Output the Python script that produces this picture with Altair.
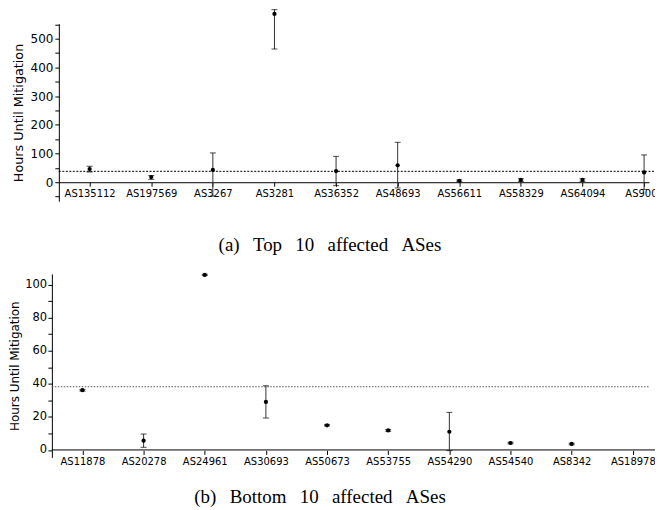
import altair as alt
import pandas as pd

# ---- Top 10 affected ASes ----
top_names = ["AS135112", "AS197569", "AS3267", "AS3281", "AS36352",
             "AS48693", "AS56611", "AS58329", "AS64094", "AS9009"]
top_mean = [46, 18, 43, 586, 39, 59, 5, 8, 8, 34]
top_low = [36, 10, -48, 464, -12, -20, 2, 3, 3, -25]
top_high = [56, 23, 102, 601, 90, 139, 8, 12, 12, 95]
top_ref = 38
top_ticks = [-50, 0, 50, 100, 150, 200, 250, 300, 350, 400, 450, 500, 550]

# ---- Bottom 10 affected ASes ----
bottom_names = ["AS11878", "AS20278", "AS24961", "AS30693", "AS50673",
                "AS53755", "AS54290", "AS54540", "AS8342", "AS18978"]
bottom_mean = [36.1, 5.6, 105.8, 29.0, 14.9, 11.8, 11.0, 4.2, 3.6, None]
bottom_low = [35.6, 1.6, 105.4, 19.3, 14.5, 11.3, -0.4, 3.7, 3.1, None]
bottom_high = [36.6, 9.6, 106.2, 38.8, 15.3, 12.3, 22.7, 4.7, 4.1, None]
bottom_ref = 38.2
bottom_ticks = [0, 10, 20, 30, 40, 50, 60, 70, 80, 90, 100]

FONT = "DejaVu Sans"


def panel(names, mean, low, high, ref, yticks, ydomain, xdomain, width, height,
          xoffset, yoffset, ylabel_size, ytitle_size, ytitle_pad, ylabel_pad,
          major, caption, cap_offset, cap_dx, ref_dash, ref_color, own_baseline,
          ref_extra):
    df = pd.DataFrame({"i": list(range(len(names))), "name": names,
                       "mean": mean, "lo": low, "hi": high})
    label_expr = "[" + ",".join('"%s"' % n for n in names) + "][datum.value]"
    xaxis = alt.Axis(values=list(range(len(names))), labelExpr=label_expr,
                     title=None, grid=False, offset=xoffset, tickSize=4,
                     labelPadding=2, labelFontSize=10, labelFont=FONT,
                     labelColor="black", tickColor="black",
                     domain=not own_baseline, domainColor="black",
                     labelOverlap=False, labelFlush=False)
    yaxis = alt.Axis(values=yticks,
                     labelExpr="datum.value %% %d == 0 ? datum.label : ''" % major,
                     title="Hours Until Mitigation", titleFont=FONT,
                     titleFontSize=ytitle_size, titleFontWeight="normal",
                     titleColor="black", titlePadding=ytitle_pad,
                     grid=False, offset=yoffset, tickSize=4,
                     labelPadding=ylabel_pad, labelFontSize=ylabel_size,
                     labelFont=FONT, labelColor="black", tickColor="black",
                     domainColor="black")
    xs = alt.Scale(domain=xdomain, nice=False, zero=False)
    ys = alt.Scale(domain=ydomain, nice=False, zero=False)
    X = alt.X("i:Q", scale=xs, axis=xaxis)

    base = alt.Chart(df)
    bars = base.mark_rule(color="#333333", strokeWidth=1).encode(
        x=X, y=alt.Y("lo:Q", scale=ys, axis=yaxis), y2="hi:Q")
    cap_lo = base.mark_tick(orient="horizontal", size=6, thickness=1,
                            color="black").encode(
        x=X, y=alt.Y("lo:Q", scale=ys, axis=yaxis))
    cap_hi = base.mark_tick(orient="horizontal", size=6, thickness=1,
                            color="black").encode(
        x=X, y=alt.Y("hi:Q", scale=ys, axis=yaxis))
    pts = base.mark_circle(size=18, color="black", opacity=1).encode(
        x=X, y=alt.Y("mean:Q", scale=ys, axis=yaxis))
    refline = alt.Chart(pd.DataFrame({"v": [ref]})).mark_rule(
        color=ref_color, strokeWidth=1, strokeDash=ref_dash).encode(
        y=alt.Y("v:Q", scale=ys, axis=yaxis),
        x=alt.value(-yoffset), x2=alt.value(width + ref_extra))
    layers = [refline, bars, cap_lo, cap_hi, pts]
    if own_baseline:
        baseline = alt.Chart(pd.DataFrame({"v": [0]})).mark_rule(
            color="black", strokeWidth=1).encode(
            y=alt.Y("v:Q", scale=ys, axis=yaxis),
            x=alt.value(-yoffset), x2=alt.value(width + yoffset))
        layers.insert(0, baseline)
    return alt.layer(*layers).properties(
        width=width, height=height,
        title=alt.TitleParams(caption, orient="bottom", anchor="middle",
                              font="Liberation Serif", fontSize=19,
                              fontWeight="normal", color="black",
                              baseline="alphabetic", offset=cap_offset,
                              dx=cap_dx))


SP = "\u2002\u2009"
top = panel(top_names, top_mean, top_low, top_high, top_ref, top_ticks,
            [-66, 552], [-0.5, 9.08], 592, 178, -19, 0, 12, 12.8, 5, 2, 100,
            "(a)" + SP + "Top" + SP + "10" + SP + "affected" + SP + "ASes",
            50, -24, [2, 1.5], "black", False, 8)
bottom = panel(bottom_names, bottom_mean, bottom_low, bottom_high, bottom_ref,
               bottom_ticks, [-4.5, 106.4], [-0.386, 9.265], 592, 184, -7, 7,
               11.5, 12, 3, 1.3, 20,
               "(b)" + SP + "Bottom" + SP + "10" + SP + "affected" + SP + "ASes",
               37, -34, [1.5, 1.5], "#555555", True, 0)

chart = alt.vconcat(top, bottom, spacing=17).properties(
    padding={"left": 0, "top": 0, "right": -9, "bottom": 0}
).configure_view(stroke=None)

chart.save("out.html", embed_options={"renderer": "svg", "actions": False})
